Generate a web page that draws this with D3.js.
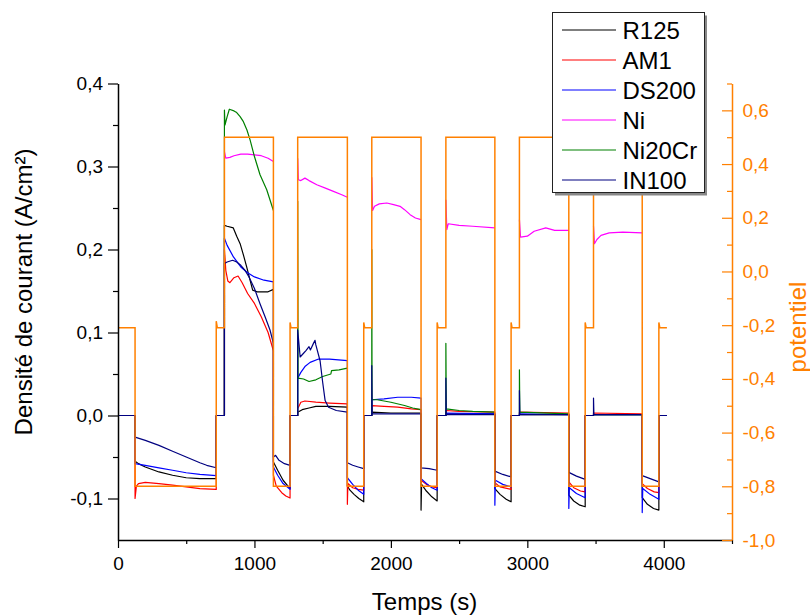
<!DOCTYPE html>
<html><head><meta charset="utf-8">
<script src="https://cdn.jsdelivr.net/npm/d3@7"></script>
<style>
body{margin:0;background:#fff;}
svg text{font-family:"Liberation Sans",Arial,sans-serif;}
</style></head>
<body><svg id="c" width="810" height="616"></svg>
<script>
// ---------------- DATA ----------------
const seriesNames = ["R125","AM1","DS200","Ni","Ni20Cr","IN100"];
const seriesColors = ["#000000","#ff0000","#0000ff","#ff00ff","#008000","#000080"];
const xTicks = [0,1000,2000,3000,4000];
const yLeftTicks = [-0.1,0,0.1,0.2,0.3,0.4];
const yRightTicks = [-1.0,-0.8,-0.6,-0.4,-0.2,0,0.2,0.4,0.6];

// potential (V) vs time (s)
const potentiel = [[0,-0.21],[125,-0.21],[125,-0.80],[720,-0.80],[720,-0.185],[728,-0.21],[780,-0.21],
 [780,0.50],[1139,0.50],[1139,-0.80],[1261,-0.80],[1261,-0.19],[1268,-0.21],[1317,-0.21],
 [1317,0.50],[1681,0.50],[1681,-0.80],[1801,-0.80],[1801,-0.19],[1808,-0.21],[1860,-0.21],
 [1860,0.50],[2221,0.50],[2221,-0.80],[2339,-0.80],[2339,-0.19],[2346,-0.21],[2403,-0.21],
 [2403,0.50],[2762,0.50],[2762,-0.80],[2881,-0.80],[2881,-0.19],[2888,-0.21],[2942,-0.21],
 [2942,0.50],[3304,0.50],[3304,-0.80],[3424,-0.80],[3424,-0.19],[3431,-0.21],[3485,-0.21],
 [3485,0.50],[3842,0.50],[3842,-0.80],[3964,-0.80],[3964,-0.19],[3971,-0.21],[4023,-0.21]];

const R125 = [[0,0],[125,0],
 [125,-0.055],[150,-0.058],[200,-0.062],[300,-0.068],[400,-0.072],[500,-0.075],[600,-0.076],[720,-0.076],
 [720,0],[780,0],
 [780,0.229],[800,0.228],[845,0.226],[870,0.216],[895,0.207],[920,0.193],[943,0.179],[965,0.165],[987,0.151],[1020,0.149],[1100,0.149],[1139,0.152],
 [1139,-0.056],[1170,-0.066],[1210,-0.078],[1261,-0.088],
 [1261,0],[1317,0],
 [1317,0.004],[1350,0.007],[1400,0.009],[1450,0.011],[1550,0.011],[1681,0.010],
 [1681,-0.085],[1700,-0.090],[1730,-0.095],[1765,-0.100],[1801,-0.104],
 [1801,0],[1860,0],
 [1860,0.004],[2000,0.003],[2221,0.003],
 [2221,-0.114],[2225,-0.083],[2260,-0.091],[2300,-0.098],[2339,-0.103],
 [2339,0],[2403,0],
 [2403,0.002],[2762,0.002],
 [2762,-0.088],[2800,-0.095],[2845,-0.101],[2881,-0.104],
 [2881,0],[2942,0],
 [2942,0.001],[3304,0.001],
 [3304,-0.096],[3340,-0.103],[3385,-0.108],[3424,-0.110],
 [3424,0],[3485,0],
 [3485,0.001],[3842,0.001],
 [3842,-0.099],[3880,-0.107],[3925,-0.112],[3964,-0.114],
 [3964,0],[4023,0]];

const AM1 = [[0,0],[125,0],
 [125,-0.100],[135,-0.085],[150,-0.082],[200,-0.0805],[300,-0.082],[400,-0.084],[500,-0.086],[600,-0.088],[720,-0.089],
 [720,0],[780,0],
 [780,0.200],[790,0.175],[805,0.162],[820,0.160],[850,0.166],[880,0.168],[910,0.160],[950,0.147],[1000,0.135],[1050,0.119],[1100,0.100],[1139,0.078],
 [1139,-0.072],[1160,-0.085],[1200,-0.093],[1230,-0.097],[1261,-0.0995],
 [1261,0],[1317,0],
 [1317,0.008],[1340,0.016],[1370,0.0175],[1450,0.016],[1550,0.015],[1681,0.014],
 [1681,-0.107],[1685,-0.082],[1720,-0.087],[1760,-0.089],[1801,-0.090],
 [1801,0],[1860,0],
 [1860,0.012],[1950,0.011],[2050,0.010],[2150,0.008],[2221,0.007],
 [2221,-0.078],[2260,-0.083],[2300,-0.086],[2339,-0.087],
 [2339,0],[2403,0],
 [2403,0.006],[2500,0.005],[2762,0.004],
 [2762,-0.081],[2800,-0.086],[2881,-0.089],
 [2881,0],[2942,0],
 [2942,0.004],[3304,0.003],
 [3304,-0.080],[3340,-0.087],[3390,-0.091],[3424,-0.092],
 [3424,0],[3485,0],
 [3485,0.003],[3842,0.002],
 [3842,-0.082],[3880,-0.088],[3930,-0.092],[3964,-0.093],
 [3964,0],[4023,0]];

const DS200 = [[0,0],[125,0],
 [125,-0.058],[200,-0.060],[300,-0.063],[400,-0.066],[500,-0.069],[600,-0.071],[720,-0.0725],
 [720,0],[780,0],
 [780,0.2135],[800,0.205],[846,0.191],[900,0.179],[950,0.172],[1000,0.167],[1070,0.163],[1139,0.161],
 [1139,-0.062],[1170,-0.072],[1210,-0.082],[1261,-0.089],
 [1261,0],[1317,0],
 [1317,0.045],[1340,0.052],[1370,0.059],[1408,0.064],[1470,0.068],[1550,0.068],[1681,0.066],
 [1681,-0.075],[1720,-0.083],[1760,-0.090],[1801,-0.095],
 [1801,0],[1860,0],
 [1860,0.019],[1950,0.020],[2050,0.022],[2150,0.022],[2221,0.021],
 [2221,-0.076],[2260,-0.082],[2300,-0.087],[2339,-0.090],
 [2339,0],[2403,0],
 [2403,0.003],[2762,0.002],
 [2762,-0.108],[2766,-0.078],[2820,-0.083],[2881,-0.086],
 [2881,0],[2942,0],
 [2942,0.002],[3304,0.001],
 [3304,-0.112],[3308,-0.087],[3360,-0.094],[3424,-0.099],
 [3424,0],[3485,0],
 [3485,0.001],[3842,0.001],
 [3842,-0.117],[3846,-0.088],[3900,-0.095],[3964,-0.101],
 [3964,0],[4023,0]];

const Ni = [
 [780,0.318],[790,0.310],[820,0.311],[850,0.313],[900,0.315],[950,0.315],[1000,0.314],[1050,0.313],[1100,0.310],[1139,0.306],null,
 [1317,0.310],[1322,0.284],[1340,0.283],[1370,0.286],[1400,0.283],[1457,0.278],[1520,0.274],[1579,0.270],[1640,0.266],[1681,0.263],null,
 [1860,0.287],[1866,0.247],[1880,0.252],[1915,0.255],[1970,0.256],[2020,0.254],[2067,0.252],[2100,0.248],[2141,0.242],[2180,0.238],[2221,0.236],null,
 [2403,0.260],[2410,0.224],[2420,0.231],[2500,0.229],[2600,0.228],[2762,0.226],null,
 [2942,0.236],[2950,0.215],[3000,0.216],[3050,0.222],[3135,0.226],[3200,0.223],[3304,0.223],null,
 [3485,0.228],[3492,0.207],[3510,0.212],[3540,0.217],[3600,0.220],[3700,0.221],[3842,0.220]];

const Ni20Cr = [
 [780,0],[780,0.368],[784,0.350],[800,0.360],[816,0.369],[850,0.367],[870,0.365],[895,0.360],[919,0.354],[945,0.344],[968,0.332],[1000,0.312],[1041,0.290],[1090,0.272],[1139,0.247],null,
 [1261,0],[1317,0],[1317,0.258],[1320,0.045],[1360,0.044],[1400,0.041],[1450,0.043],[1500,0.047],[1560,0.050],[1565,0.054],[1620,0.055],[1681,0.057],null,
 [1801,0],[1860,0],[1860,0.200],[1862,0.019],[1900,0.019],[2000,0.016],[2100,0.012],[2160,0.009],[2221,0.007],null,
 [2339,0],[2403,0],[2403,0.087],[2406,0.008],[2500,0.006],[2600,0.005],[2762,0.004],null,
 [2881,0],[2942,0],[2942,0.055],[2945,0.004],[3304,0.002],null,
 [3424,0],[3485,0],[3485,0.001],[3842,0.001]];

const IN100 = [[0,0],[125,0],
 [125,-0.026],[200,-0.030],[300,-0.036],[400,-0.043],[500,-0.050],[600,-0.057],[650,-0.060],[720,-0.063],
 [720,0],[780,0],
 [780,0.183],[800,0.185],[840,0.187],[870,0.185],[900,0.181],[930,0.175],[960,0.167],[1000,0.153],[1040,0.135],[1080,0.118],[1114,0.103],[1139,0.087],
 [1139,-0.050],[1155,-0.048],[1180,-0.054],[1220,-0.058],[1261,-0.060],
 [1261,0],[1317,0],
 [1317,0.103],[1335,0.0705],[1360,0.075],[1379,0.0785],[1400,0.083],[1410,0.079],[1430,0.086],[1444,0.0906],[1450,0.085],[1481,0.066],[1500,0.040],[1518,0.018],[1543,0.010],[1600,0.006],[1681,0.004],
 [1681,-0.057],[1720,-0.060],[1760,-0.062],[1801,-0.064],
 [1801,0],[1860,0],
 [1860,0.060],[1863,0.002],[2221,0.002],
 [2221,-0.063],[2280,-0.064],[2339,-0.066],
 [2339,0],[2403,0],
 [2403,0.045],[2406,0.001],[2762,0.001],
 [2762,-0.067],[2820,-0.071],[2881,-0.074],
 [2881,0],[2942,0],
 [2942,0.030],[2945,0.001],[3304,0.001],
 [3304,-0.0685],[3360,-0.073],[3424,-0.077],
 [3424,0],[3485,0],
 [3485,0.021],[3488,0.001],[3842,0.001],
 [3842,-0.0725],[3900,-0.076],[3964,-0.080],
 [3964,0],[4023,0]];

const seriesData = [R125, AM1, DS200, Ni, Ni20Cr, IN100];

// ---------------- CHART ----------------
const svg = d3.select("#c");
const L = 118, R = 732, T = 83.5, B = 540;
const x = d3.scaleLinear().domain([0,4500]).range([L,R]);
const yL = d3.scaleLinear().domain([-0.15,0.4]).range([B,T]);
const yR = d3.scaleLinear().domain([-1.0,0.7]).range([B,T]);
const orange = "#ff8000";
const loc = d3.formatLocale({decimal:",",thousands:".",grouping:[3],currency:["",""],minus:"-"});
const f1 = loc.format(".1f");

svg.append("clipPath").attr("id","pc").append("rect")
  .attr("x",L).attr("y",T-2).attr("width",R-L).attr("height",B-T+2);

const gPlot = svg.append("g").attr("clip-path","url(#pc)");
const lineL = d3.line().defined(d=>d!==null).x(d=>x(d[0])).y(d=>yL(d[1]));
const lineR = d3.line().x(d=>x(d[0])).y(d=>yR(d[1]));

seriesData.forEach((s,i)=>{
  gPlot.append("path").attr("d",lineL(s)).attr("fill","none")
    .attr("stroke",seriesColors[i]).attr("stroke-width",1.2).attr("stroke-linejoin","round");
});
gPlot.append("path").attr("d",lineR(potentiel)).attr("fill","none")
  .attr("stroke",orange).attr("stroke-width",1.5);

// axes
const fs = "19px";
const gx = svg.append("g").attr("transform",`translate(0,${B})`);
gx.call(d3.axisBottom(x).tickValues(xTicks).tickFormat(d3.format("d")).tickSize(8).tickSizeOuter(0).tickPadding(9));
gx.append("g").call(d3.axisBottom(x).tickValues([500,1500,2500,3500,4500]).tickFormat("").tickSize(4).tickSizeOuter(0))
  .select(".domain").remove();
const gy = svg.append("g").attr("transform",`translate(${L},0)`);
gy.call(d3.axisLeft(yL).tickValues(yLeftTicks).tickFormat(f1).tickSize(10).tickSizeOuter(0).tickPadding(5));
gy.append("g").call(d3.axisLeft(yL).tickValues([-0.05,0.05,0.15,0.25,0.35]).tickFormat("").tickSize(5).tickSizeOuter(0))
  .select(".domain").remove();
const gr = svg.append("g").attr("transform",`translate(${R},0)`);
gr.call(d3.axisRight(yR).tickValues(yRightTicks).tickFormat(f1).tickSizeInner(-10).tickSizeOuter(0).tickPadding(10.5));
gr.append("g").call(d3.axisRight(yR).tickValues([-0.9,-0.7,-0.5,-0.3,-0.1,0.1,0.3,0.5,0.7]).tickFormat("").tickSizeInner(-5).tickSizeOuter(0))
  .select(".domain").remove();

[gx,gy,gr].forEach(g=>{
  g.selectAll("text").attr("font-size",fs).attr("font-family","Liberation Sans, Arial, sans-serif");
  g.selectAll(".domain").attr("stroke-width",1.5);
  g.selectAll(".tick line").attr("stroke-width",1.2);
});
gx.selectAll("text").attr("fill","#000");
gy.selectAll("text").attr("fill","#000");
gr.selectAll(".domain").attr("stroke",orange);
gr.selectAll(".tick line").attr("stroke",orange);
gr.selectAll("text").attr("fill",orange);

// titles
svg.append("text").attr("x",424.5).attr("y",610).attr("text-anchor","middle")
  .attr("font-size","24px").attr("fill","#000").text("Temps (s)");
svg.append("text").attr("transform","translate(32,292) rotate(-90)").attr("text-anchor","middle")
  .attr("font-size","24px").attr("fill","#000").text("Densité de courant (A/cm²)");
svg.append("text").attr("transform","translate(806,327) rotate(-90)").attr("text-anchor","middle")
  .attr("font-size","24px").attr("fill",orange).text("potentiel");

// legend
const lg = svg.append("g");
lg.append("rect").attr("x",555).attr("y",15.5).attr("width",152).attr("height",180).attr("fill","#888");
lg.append("rect").attr("x",552.5).attr("y",12.5).attr("width",152).attr("height",180)
  .attr("fill","#fff").attr("stroke","#222").attr("stroke-width",1);
seriesNames.forEach((n,i)=>{
  const yy = 30 + i*30;
  lg.append("line").attr("x1",562).attr("x2",616).attr("y1",yy).attr("y2",yy)
    .attr("stroke",seriesColors[i]).attr("stroke-width",1.2);
  lg.append("text").attr("x",622.5).attr("y",yy+8.6).attr("font-size","24px").attr("fill","#000").text(n);
});
</script></body></html>
